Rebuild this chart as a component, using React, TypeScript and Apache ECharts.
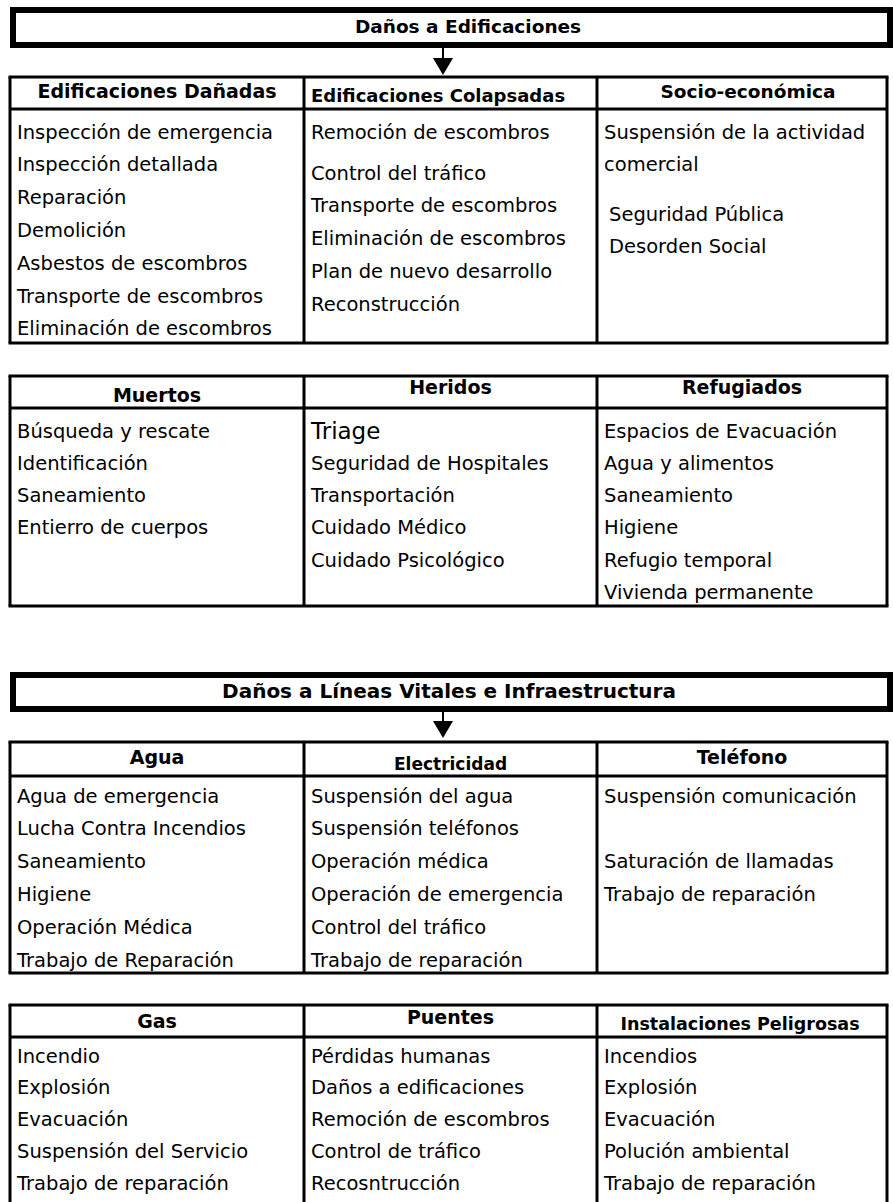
import React, { useEffect, useRef } from "react";
import * as echarts from "echarts";

// ---------- data ----------
const BANNER_TITLES = ["Daños a Edificaciones", "Daños a Líneas Vitales e Infraestructura"];

const T1_HEADERS = ["Edificaciones Dañadas", "Edificaciones Colapsadas", "Socio-económica"];
const T1_COL1 = [
  "Inspección de emergencia",
  "Inspección detallada",
  "Reparación",
  "Demolición",
  "Asbestos de escombros",
  "Transporte de escombros",
  "Eliminación de escombros",
];
const T1_COL2 = [
  "Remoción de escombros",
  "Control del tráfico",
  "Transporte de escombros",
  "Eliminación de escombros",
  "Plan de nuevo desarrollo",
  "Reconstrucción",
];
const T1_COL3 = ["Suspensión de la actividad", "comercial", "Seguridad Pública", "Desorden Social"];

const T2_HEADERS = ["Muertos", "Heridos", "Refugiados"];
const T2_COL1 = ["Búsqueda y rescate", "Identificación", "Saneamiento", "Entierro de cuerpos"];
const T2_COL2 = ["Triage", "Seguridad de Hospitales", "Transportación", "Cuidado Médico", "Cuidado Psicológico"];
const T2_COL3 = [
  "Espacios de Evacuación",
  "Agua y alimentos",
  "Saneamiento",
  "Higiene",
  "Refugio temporal",
  "Vivienda permanente",
];

const T3_HEADERS = ["Agua", "Electricidad", "Teléfono"];
const T3_COL1 = [
  "Agua de emergencia",
  "Lucha Contra Incendios",
  "Saneamiento",
  "Higiene",
  "Operación Médica",
  "Trabajo de Reparación",
];
const T3_COL2 = [
  "Suspensión del agua",
  "Suspensión teléfonos",
  "Operación médica",
  "Operación de emergencia",
  "Control del tráfico",
  "Trabajo de reparación",
];
const T3_COL3 = ["Suspensión comunicación", "Saturación de llamadas", "Trabajo de reparación"];

const T4_HEADERS = ["Gas", "Puentes", "Instalaciones Peligrosas"];
const T4_COL1 = ["Incendio", "Explosión", "Evacuación", "Suspensión del Servicio", "Trabajo de reparación"];
const T4_COL2 = ["Pérdidas humanas", "Daños a edificaciones", "Remoción de escombros", "Control de tráfico", "Recosntrucción"];
const T4_COL3 = ["Incendios", "Explosión", "Evacuación", "Polución ambiental", "Trabajo de reparación"];

// ---------- layout ----------
const W = 893;
const H = 1202;
const COLS = [10, 304, 597, 887];
const PAD = 7;
const FAMILY = '"DejaVu Sans", sans-serif';
const BODY_SIZE = 19.5;

type HeadStyle = { dy: number; size: number; align: "left" | "center"; cx?: number };

type TableSpec = {
  top: number;
  headBottom: number;
  bottom: number;
  drawBottom: boolean;
  rowStart: number;
  rowStep: number;
  headers: string[];
  headStyles: HeadStyle[];
  cols: string[][];
  slots?: (number[] | null)[];
};

const TABLES: TableSpec[] = [
  {
    top: 77,
    headBottom: 109,
    bottom: 343,
    drawBottom: true,
    rowStart: 132,
    rowStep: 32.8,
    headers: T1_HEADERS,
    headStyles: [
      { dy: 91, size: 19, align: "center" },
      { dy: 95, size: 18, align: "left" },
      { dy: 91, size: 18.5, align: "center", cx: 748 },
    ],
    cols: [T1_COL1, T1_COL2, T1_COL3],
    slots: [null, [0, 1.25, 2.25, 3.25, 4.25, 5.25], [0, 1, 2.5, 3.5]],
  },
  {
    top: 376,
    headBottom: 408,
    bottom: 606,
    drawBottom: true,
    rowStart: 431,
    rowStep: 32.3,
    headers: T2_HEADERS,
    headStyles: [
      { dy: 395, size: 19, align: "center" },
      { dy: 387, size: 19, align: "center" },
      { dy: 387, size: 19, align: "center" },
    ],
    cols: [T2_COL1, T2_COL2, T2_COL3],
  },
  {
    top: 742,
    headBottom: 776,
    bottom: 973,
    drawBottom: true,
    rowStart: 796,
    rowStep: 32.8,
    headers: T3_HEADERS,
    headStyles: [
      { dy: 757, size: 19, align: "center" },
      { dy: 764, size: 17, align: "center" },
      { dy: 757, size: 19, align: "center" },
    ],
    cols: [T3_COL1, T3_COL2, T3_COL3],
    slots: [null, null, [0, 2, 3]],
  },
  {
    top: 1005,
    headBottom: 1037,
    bottom: 1240,
    drawBottom: false,
    rowStart: 1056,
    rowStep: 31.8,
    headers: T4_HEADERS,
    headStyles: [
      { dy: 1021, size: 19, align: "center" },
      { dy: 1017, size: 19, align: "center" },
      { dy: 1024, size: 17.5, align: "center", cx: 740 },
    ],
    cols: [T4_COL1, T4_COL2, T4_COL3],
  },
];

const BANNERS = [
  { top: 10, bottom: 45, textX: 468, textY: 26.5, size: 18.5, arrowTop: 48, arrowTip: 75 },
  { top: 675, bottom: 709, textX: 449, textY: 691, size: 20, arrowTop: 712, arrowTip: 738 },
];
const ARROW_X = 443;

function buildGraphics() {
  const els: any[] = [];
  const black = "#000";

  BANNERS.forEach((b, i) => {
    els.push({
      type: "rect",
      shape: { x: 13, y: b.top, width: 877, height: b.bottom - b.top },
      style: { fill: "#fff", stroke: black, lineWidth: 6 },
    });
    els.push({
      type: "text",
      x: b.textX,
      y: b.textY,
      style: {
        text: BANNER_TITLES[i],
        x: 0,
        y: 0,
        font: `bold ${b.size}px ${FAMILY}`,
        fill: black,
        textAlign: "center",
        textVerticalAlign: "middle",
      },
    });
    const triTop = b.arrowTip - 17;
    els.push({
      type: "line",
      shape: { x1: ARROW_X, y1: b.arrowTop, x2: ARROW_X, y2: triTop + 1 },
      style: { stroke: black, lineWidth: 2 },
    });
    els.push({
      type: "polygon",
      shape: {
        points: [
          [ARROW_X - 10, triTop],
          [ARROW_X + 10, triTop],
          [ARROW_X, b.arrowTip],
        ],
      },
      style: { fill: black },
    });
  });

  TABLES.forEach((t, ti) => {
    const lw = 3;
    COLS.forEach((x) => {
      els.push({
        type: "line",
        shape: { x1: x, y1: t.top, x2: x, y2: t.bottom },
        style: { stroke: black, lineWidth: lw },
      });
    });
    els.push({
      type: "line",
      shape: { x1: COLS[0] - 1.5, y1: t.top, x2: COLS[3] + 1.5, y2: t.top },
      style: { stroke: black, lineWidth: lw },
    });
    els.push({
      type: "line",
      shape: { x1: COLS[0], y1: t.headBottom, x2: COLS[3], y2: t.headBottom },
      style: { stroke: black, lineWidth: lw },
    });
    if (t.drawBottom) {
      els.push({
        type: "line",
        shape: { x1: COLS[0] - 1.5, y1: t.bottom, x2: COLS[3] + 1.5, y2: t.bottom },
        style: { stroke: black, lineWidth: lw },
      });
    }
    t.headers.forEach((h, c) => {
      const hs = t.headStyles[c];
      const cx =
        hs.align === "center" ? hs.cx ?? (COLS[c] + COLS[c + 1]) / 2 : COLS[c] + PAD;
      els.push({
        type: "text",
        x: cx,
        y: hs.dy,
        style: {
          text: h,
          x: 0,
          y: 0,
          font: `bold ${hs.size}px ${FAMILY}`,
          fill: black,
          textAlign: hs.align,
          textVerticalAlign: "middle",
        },
      });
    });
    t.cols.forEach((items, c) => {
      const slots = t.slots && t.slots[c];
      items.forEach((txt, r) => {
        const slot = slots ? slots[r] : r;
        let size = BODY_SIZE;
        let dx = 0;
        if (txt === "Triage") size = 23;
        if (ti === 0 && c === 2 && r >= 2) dx = 5;
        els.push({
          type: "text",
          x: COLS[c] + PAD + dx,
          y: t.rowStart + slot * t.rowStep,
          style: {
            text: txt,
            x: 0,
            y: 0,
            font: `${size}px ${FAMILY}`,
            fill: black,
            textAlign: "left",
            textVerticalAlign: "middle",
          },
        });
      });
    });
  });
  return els;
}

export default function App() {
  const ref = useRef<HTMLDivElement>(null);
  useEffect(() => {
    if (!ref.current) return;
    const chart = echarts.init(ref.current, null, { renderer: "svg" });
    chart.setOption({
      animation: false,
      backgroundColor: "#fff",
      graphic: { elements: buildGraphics() },
    });
    return () => chart.dispose();
  }, []);
  return (
    <div
      ref={ref}
      style={{ position: "absolute", left: 0, top: 0, width: W, height: H, background: "#fff" }}
    />
  );
}
